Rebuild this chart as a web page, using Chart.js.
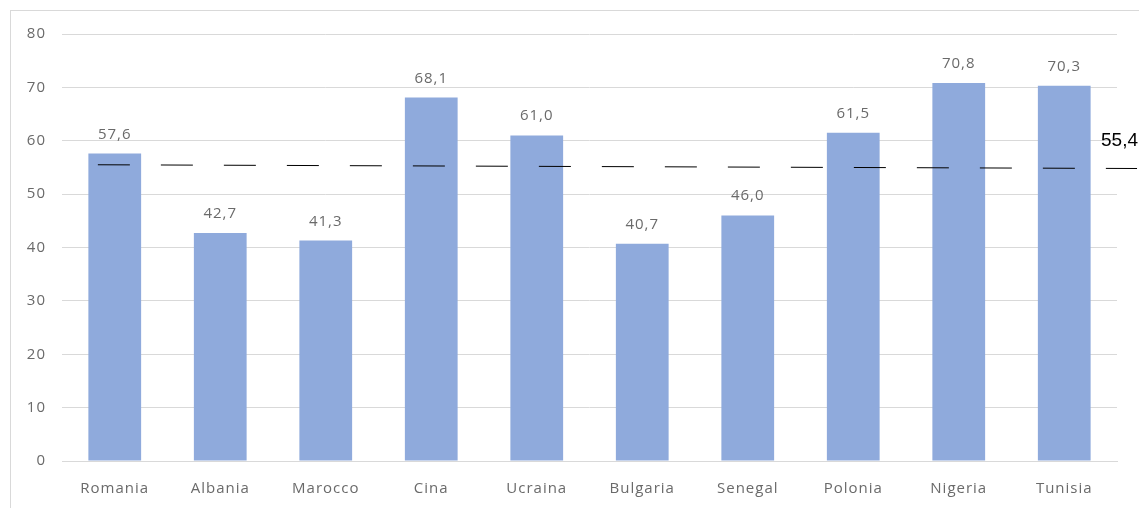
<!DOCTYPE html>
<html>
<head>
<meta charset="utf-8">
<script src="https://cdn.jsdelivr.net/npm/chart.js@4"></script>
<style>
  html, body { margin: 0; padding: 0; background: #fff; }
  body { width: 1139px; height: 508px; position: relative; overflow: hidden; }
  #frame { position: absolute; left: 10px; top: 10px; width: 1140px; height: 510px; border: 1px solid #d9d9d9; }
  #wrap { position: absolute; left: 0; top: 0; width: 1139px; height: 508px; }
</style>
</head>
<body>
<div id="frame"></div>
<div id="wrap"><canvas id="chart"></canvas></div>
<script>
// ---------- data ----------
const countries = ['Romania', 'Albania', 'Marocco', 'Cina', 'Ucraina', 'Bulgaria', 'Senegal', 'Polonia', 'Nigeria', 'Tunisia'];
const values = [57.6, 42.7, 41.3, 68.1, 61.0, 40.7, 46.0, 61.5, 70.8, 70.3];
const average = 55.4;
const avgLineY = [55.5, 54.8];     // dashed reference line, as drawn (slightly tilted)
const avgLineX = [-0.16, 9.69];    // in category units
const yTicks = [0, 10, 20, 30, 40, 50, 60, 70, 80];

const fmt = v => v.toFixed(1).replace('.', ',');
const grey = '#6a6a6a';
const font = '"Open Sans", "Liberation Sans", sans-serif';

// slightly wider, Calibri-like spacing for the chart text
const spacingPlugin = {
  id: 'spacing',
  beforeDraw(chart) { chart.ctx.letterSpacing = '1px'; }
};

// value labels above bars + average label
const labelsPlugin = {
  id: 'labels',
  afterDatasetsDraw(chart) {
    const ctx = chart.ctx;
    ctx.save();
    ctx.font = '15px ' + font;
    ctx.fillStyle = grey;
    ctx.textAlign = 'center';
    ctx.textBaseline = 'alphabetic';
    chart.getDatasetMeta(0).data.forEach((bar, i) => {
      ctx.fillText(fmt(values[i]), bar.x, bar.y - 15);
    });
    const pts = chart.getDatasetMeta(1).data;
    const last = pts[pts.length - 1];
    ctx.letterSpacing = '0px';
    ctx.font = '19px "Liberation Sans", Arial, sans-serif';
    ctx.fillStyle = '#000';
    ctx.textAlign = 'right';
    ctx.fillText(fmt(average), chart.width - 1, last.y - 23);
    ctx.restore();
  }
};

new Chart(document.getElementById('chart'), {
  data: {
    labels: countries,
    datasets: [{
      type: 'bar',
      data: values,
      backgroundColor: '#8faadc',
      barPercentage: 0.5,
      categoryPercentage: 1,
      grouped: false,
      order: 2
    }, {
      type: 'line',
      xAxisID: 'xl',
      data: avgLineX.map((x, i) => ({ x: x, y: avgLineY[i] })),
      borderColor: '#000',
      borderWidth: 1,
      borderDash: [32, 31],
      pointRadius: 0,
      fill: false,
      clip: false,
      order: 1
    }]
  },
  options: {
    responsive: true,
    maintainAspectRatio: false,
    animation: false,
    layout: { padding: { top: 34, right: 22, left: 0, bottom: 0 } },
    plugins: { legend: { display: false }, tooltip: { enabled: false } },
    scales: {
      x: {
        grid: { display: false, drawTicks: false },
        border: { color: '#d9d9d9' },
        ticks: { color: grey, font: { family: font, size: 15 }, padding: 19, maxRotation: 0 },
        afterFit: s => { s.height = 47; }
      },
      xl: { type: 'linear', display: false, min: -0.5, max: 9.5 },
      y: {
        min: 0,
        max: 80,
        afterBuildTicks: s => { s.ticks = yTicks.map(v => ({ value: v })); },
        grid: { color: '#d9d9d9', drawTicks: false },
        border: { display: false },
        ticks: { color: grey, font: { family: font, size: 15 }, padding: 16 },
        afterFit: s => { s.width = 62; }
      }
    }
  },
  plugins: [spacingPlugin, labelsPlugin]
});
</script>
</body>
</html>
